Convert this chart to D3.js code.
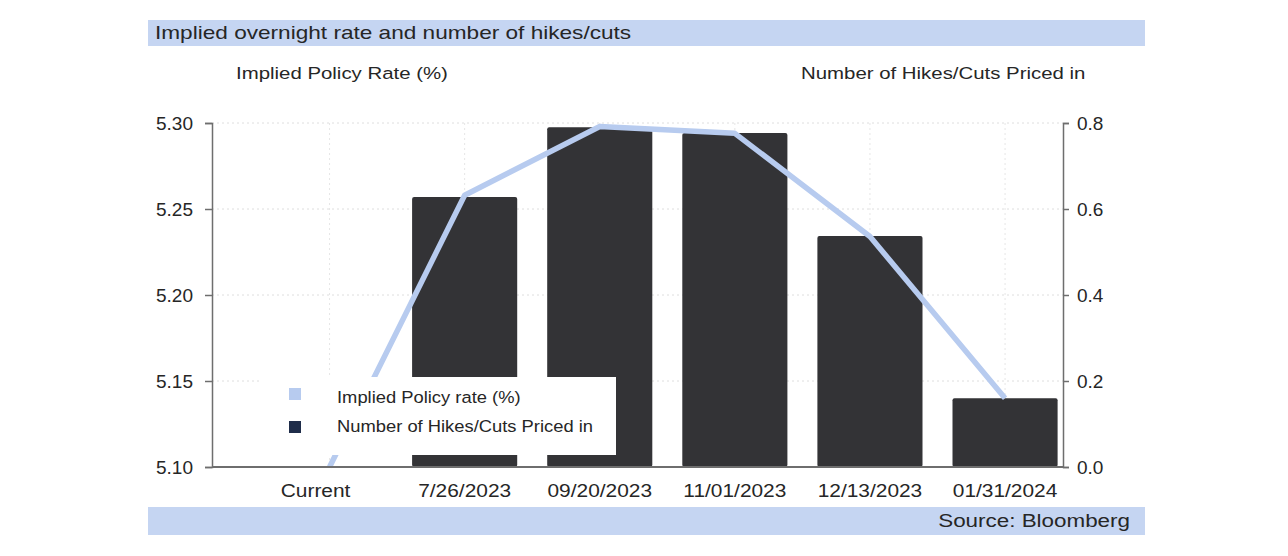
<!DOCTYPE html>
<html>
<head>
<meta charset="utf-8">
<script src="https://cdn.jsdelivr.net/npm/d3@7"></script>
<style>
  body { margin: 0; background: #fff; }
  text { font-family: "Liberation Sans", Arial, sans-serif; fill: #262626; }
</style>
</head>
<body>
<div id="chart"></div>
<script>
// -----------------------------------------//
//                 Data
// -----------------------------------------//
var categories = ["Current", "7/26/2023", "09/20/2023", "11/01/2023", "12/13/2023", "01/31/2024"];
var hikesCuts = [0, 0.628, 0.79, 0.777, 0.537, 0.16];
var impliedRate = [5.10, 5.258, 5.298, 5.294, 5.234, 5.14];
var leftTicks = [5.10, 5.15, 5.20, 5.25, 5.30];
var rightTicks = [0.0, 0.2, 0.4, 0.6, 0.8];

// -----------------------------------------//
//              SVG sizing
// -----------------------------------------//
var svgWidth = 1288;
var svgHeight = 556;

var plot = { left: 212, right: 1063, top: 123, bottom: 467 };

var svg = d3.select("#chart")
  .append("svg")
  .attr("width", svgWidth)
  .attr("height", svgHeight);

// text in the source picture is a bit wider than Arial, so stretch it
function addText(parent, x, y, size, stretch, str, anchor) {
  return parent.append("text")
    .attr("transform", `translate(${x}, ${y}) scale(${stretch}, 1)`)
    .attr("text-anchor", anchor || "start")
    .style("font-size", size + "px")
    .text(str);
}

// title + source bands
svg.append("rect")
  .attr("x", 148).attr("y", 20)
  .attr("width", 997).attr("height", 26)
  .attr("fill", "#c5d5f2");

addText(svg, 155, 39, 19, 1.19, "Implied overnight rate and number of hikes/cuts");

svg.append("rect")
  .attr("x", 148).attr("y", 507)
  .attr("width", 997).attr("height", 28)
  .attr("fill", "#c5d5f2");

addText(svg, 1130, 527, 19, 1.18, "Source: Bloomberg", "end");

// axis titles
addText(svg, 236, 79, 17, 1.2, "Implied Policy Rate (%)");
addText(svg, 801, 79, 17, 1.2, "Number of Hikes/Cuts Priced in");

// -----------------------------------------//
//               Scales
// -----------------------------------------//
var xScale = d3.scaleBand()
  .domain(categories)
  .range([262, 1072.6])
  .paddingInner(0.222)
  .paddingOuter(0.111);

var yLeft = d3.scaleLinear()
  .domain([5.10, 5.30])
  .range([plot.bottom, plot.top]);

var yRight = d3.scaleLinear()
  .domain([0, 0.8])
  .range([plot.bottom, plot.top]);

var chartGroup = svg.append("g");

// faint dotted gridlines
chartGroup.append("g").selectAll("line")
  .data(leftTicks.slice(1))
  .enter()
  .append("line")
  .attr("x1", plot.left).attr("x2", plot.right)
  .attr("y1", d => yLeft(d)).attr("y2", d => yLeft(d))
  .attr("stroke", "#dedede")
  .attr("stroke-dasharray", "2,3");

chartGroup.append("g").selectAll("line")
  .data(categories)
  .enter()
  .append("line")
  .attr("x1", d => xScale(d) + xScale.bandwidth() / 2)
  .attr("x2", d => xScale(d) + xScale.bandwidth() / 2)
  .attr("y1", plot.top).attr("y2", plot.bottom)
  .attr("stroke", "#e6e6e6")
  .attr("stroke-dasharray", "2,3");

// bars
chartGroup.append("g").selectAll("rect")
  .data(categories)
  .enter()
  .append("rect")
  .attr("x", d => xScale(d))
  .attr("y", (d, i) => yRight(hikesCuts[i]))
  .attr("width", xScale.bandwidth())
  .attr("height", (d, i) => plot.bottom - yRight(hikesCuts[i]))
  .attr("rx", 2)
  .attr("fill", "#333336");

// line
var line = d3.line()
  .x(d => xScale(d[0]) + xScale.bandwidth() / 2)
  .y(d => yLeft(d[1]));

chartGroup.append("path")
  .datum(d3.zip(categories, impliedRate))
  .attr("d", line)
  .attr("fill", "none")
  .attr("stroke", "#b7cbef")
  .attr("stroke-width", 5.5)
  .attr("stroke-linejoin", "round");

// -----------------------------------------//
//                 Axes
// -----------------------------------------//
var leftAxis = d3.axisLeft(yLeft)
  .tickValues(leftTicks)
  .tickFormat(d3.format(".2f"))
  .tickSizeInner(7)
  .tickSizeOuter(7)
  .tickPadding(12);

var rightAxis = d3.axisRight(yRight)
  .tickValues(rightTicks)
  .tickFormat(d3.format(".1f"))
  .tickSizeInner(6)
  .tickSizeOuter(6)
  .tickPadding(8);

var yAxisL = svg.append("g")
  .attr("transform", `translate(${plot.left}, 0)`)
  .call(leftAxis);

var yAxisR = svg.append("g")
  .attr("transform", `translate(${plot.right}, 0)`)
  .call(rightAxis);

[yAxisL, yAxisR].forEach(function(ax) {
  ax.select(".domain").attr("stroke", "#6e6e6e").attr("stroke-width", 1.5);
  ax.selectAll(".tick line").attr("stroke", "#6e6e6e").attr("stroke-width", 1.5);
  ax.selectAll(".tick text")
    .style("font-size", "19px")
    .style("font-family", "Liberation Sans, Arial, sans-serif")
    .attr("fill", "#262626");
});

// bottom axis line + category labels
svg.append("line")
  .attr("x1", plot.left).attr("x2", plot.right)
  .attr("y1", plot.bottom).attr("y2", plot.bottom)
  .attr("stroke", "#6e6e6e")
  .attr("stroke-width", 2);

var xLabels = svg.append("g");
categories.forEach(function(c, i) {
  // "Current" sits a little left of its slot in the original
  var cx = xScale(c) + xScale.bandwidth() / 2 + (i === 0 ? -14 : 0);
  addText(xLabels, cx, 497, 19, 1.1, c, "middle");
});

// -----------------------------------------//
//                Legend
// -----------------------------------------//
var legend = svg.append("g");

legend.append("rect")
  .attr("x", 262).attr("y", 377)
  .attr("width", 354).attr("height", 78)
  .attr("fill", "#fff");

var legendItems = [
  { label: "Implied Policy rate (%)", color: "#b7cbef" },
  { label: "Number of Hikes/Cuts Priced in", color: "#1f2d4a" }
];

legend.selectAll("rect.key")
  .data(legendItems)
  .enter()
  .append("rect")
  .classed("key", true)
  .attr("x", 289)
  .attr("y", (d, i) => 388 + i * 33)
  .attr("width", 12).attr("height", 12)
  .attr("fill", d => d.color);

legendItems.forEach(function(d, i) {
  addText(legend, 337, 403 + i * 29, 17, 1.08, d.label);
});
</script>
</body>
</html>
